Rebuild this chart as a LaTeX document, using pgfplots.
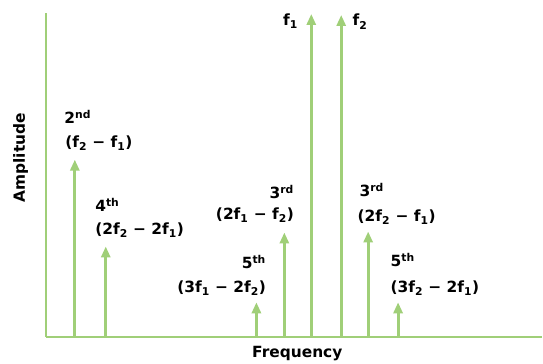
\documentclass[border=0pt]{standalone}
\usepackage{fontspec}
\setmainfont{DejaVu Sans}
\usepackage{pgfplots}
\usepackage{pgfplotstable}
\pgfplotsset{compat=1.18}
\usetikzlibrary{arrows.meta}
\definecolor{spgreen}{RGB}{160,207,120}
\definecolor{txt}{RGB}{35,35,35}
\newcommand\lbl{\fontsize{15.5}{18}\selectfont\bfseries}
\newcommand\axl{\fontsize{15.5}{18}\selectfont\bfseries}

% spectral lines: position (px-like units) and amplitude
\pgfplotstableread{
f y a
75 0 178
106 0 91
257 0 35
285 0 105
312 0 324
342 0 323
369 0 106
399 0 35
}\lines

\begin{document}
\begin{tikzpicture}
\begin{axis}[scale only axis, width=497bp, height=325bp,
  xmin=46, xmax=543, ymin=0, ymax=325,
  axis lines=left, axis line style={-, draw=spgreen, line width=2.5bp},
  xtick=\empty, ytick=\empty, clip=false,
  every node/.append style={inner sep=0pt, text=txt}]
  \addplot[draw=spgreen, line width=3bp, quiver={u=0, v=\thisrow{a}},
    -{Triangle[width=9bp, length=11bp]}] table[x=f, y=y] {\lines};

  \node[anchor=base west, font=\lbl] at (axis cs:61,214) {2\textsuperscript{nd}};
  \node[anchor=base west, font=\lbl] at (axis cs:62,190) {(f\textsubscript{2} − f\textsubscript{1})};
  \node[anchor=base west, font=\lbl] at (axis cs:92,126) {4\textsuperscript{th}};
  \node[anchor=base west, font=\lbl] at (axis cs:92,103) {(2f\textsubscript{2} − 2f\textsubscript{1})};

  \node[anchor=base east, font=\lbl] at (axis cs:298,139) {3\textsuperscript{rd}};
  \node[anchor=base east, font=\lbl] at (axis cs:298,118) {(2f\textsubscript{1} − f\textsubscript{2})};
  \node[anchor=base east, font=\lbl] at (axis cs:270,69) {5\textsuperscript{th}};
  \node[anchor=base east, font=\lbl] at (axis cs:270,45) {(3f\textsubscript{1} − 2f\textsubscript{2})};

  \node[anchor=base east, font=\lbl] at (axis cs:302,312) {f\textsubscript{1}};
  \node[anchor=base west, font=\lbl] at (axis cs:350,312) {f\textsubscript{2}};

  \node[anchor=base west, font=\lbl] at (axis cs:357,141) {3\textsuperscript{rd}};
  \node[anchor=base west, font=\lbl] at (axis cs:355,116) {(2f\textsubscript{2} − f\textsubscript{1})};
  \node[anchor=base west, font=\lbl] at (axis cs:388,71) {5\textsuperscript{th}};
  \node[anchor=base west, font=\lbl] at (axis cs:388,45) {(3f\textsubscript{2} − 2f\textsubscript{1})};

  \node[anchor=base, font=\axl] at (axis cs:298,-20) {Frequency};
  \node[anchor=base, rotate=90, font=\axl] at (axis cs:25,180) {Amplitude};

  \path (axis cs:0,-24) rectangle (axis cs:543,338);
\end{axis}
\end{tikzpicture}
\end{document}
